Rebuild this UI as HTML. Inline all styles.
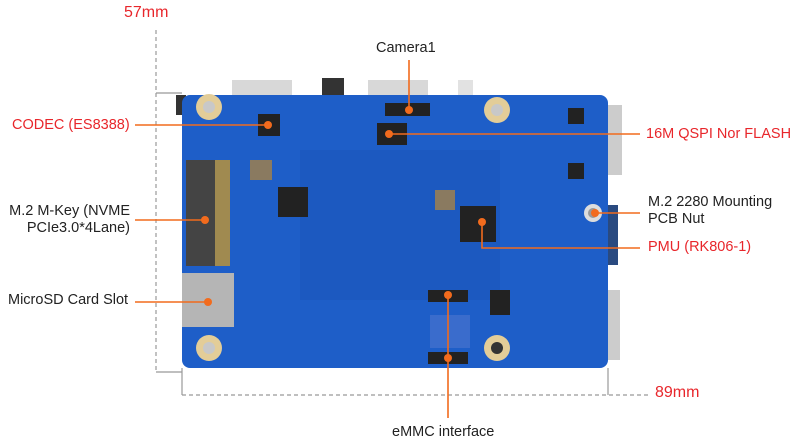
<!DOCTYPE html>
<html><head><meta charset="utf-8"><style>
body{margin:0;width:800px;height:442px;background:#fff;position:relative;overflow:hidden;font-family:"Liberation Sans",sans-serif;}
.a{position:absolute}
.t{position:absolute;font-size:14.5px;color:#222;white-space:nowrap;line-height:17px}
.r{color:#e8262b}
</style></head><body>
<svg class="a" style="left:0;top:0" width="800" height="442">
<rect x="232" y="80" width="60" height="17" fill="#d8d8d8"/>
<rect x="322" y="78" width="22" height="19" fill="#333"/>
<rect x="368" y="80" width="60" height="17" fill="#d8d8d8"/>
<rect x="458" y="80" width="15" height="17" fill="#e2e2e2"/>
<rect x="608" y="105" width="14" height="70" fill="#ccc"/>
<rect x="608" y="205" width="10" height="60" fill="#2a4a80"/>
<rect x="608" y="290" width="12" height="70" fill="#ccc"/>
<rect x="176" y="95" width="10" height="20" fill="#333"/>
<rect x="182" y="95" width="426" height="273" rx="8" fill="#1e5ec8"/>
<rect x="300" y="150" width="200" height="150" fill="#1a56bb" opacity=".6"/>
<g fill="#e3cd98"><circle cx="209" cy="107" r="13"/><circle cx="497" cy="110" r="13"/><circle cx="209" cy="348" r="13"/><circle cx="497" cy="348" r="13"/></g>
<g fill="#c8c8c8"><circle cx="209" cy="107" r="6"/><circle cx="497" cy="110" r="6"/><circle cx="209" cy="348" r="6"/></g>
<circle cx="497" cy="348" r="6" fill="#333"/>
<circle cx="593" cy="213" r="9" fill="#ddd"/><circle cx="593" cy="213" r="5" fill="#999"/>
<rect x="186" y="160" width="44" height="106" fill="#444"/>
<rect x="215" y="160" width="15" height="106" fill="#a08a50"/>
<rect x="182" y="273" width="52" height="54" fill="#b5b5b5"/>
<g fill="#222">
<rect x="258" y="114" width="22" height="22"/>
<rect x="377" y="123" width="30" height="22"/>
<rect x="385" y="103" width="45" height="13"/>
<rect x="278" y="187" width="30" height="30"/>
<rect x="460" y="206" width="36" height="36"/>
<rect x="428" y="290" width="40" height="12"/>
<rect x="428" y="352" width="40" height="12"/>
<rect x="568" y="108" width="16" height="16"/><rect x="568" y="163" width="16" height="16"/>
<rect x="490" y="290" width="20" height="25"/>
</g>
<rect x="430" y="315" width="40" height="33" fill="#3a6ccc"/>
<g fill="#8a7a60"><rect x="250" y="160" width="22" height="20"/><rect x="435" y="190" width="20" height="20"/></g>
<g stroke="#999" stroke-width="1.2" fill="none">
<path d="M156 30V372" stroke-dasharray="4 3"/>
<path d="M156 93H182"/>
<path d="M156 372H182"/>
<path d="M182 368V395"/>
<path d="M608 368V395"/>
<path d="M182 395H650" stroke-dasharray="4 3"/>
</g>
<g stroke="#f26b1d" stroke-width="1.6" fill="none">
<path d="M409 60V110"/>
<path d="M135 125H268"/>
<path d="M389 134H640"/>
<path d="M135 220H205"/>
<path d="M595 213H640"/>
<path d="M482 222V248H640"/>
<path d="M135 302H208"/>
<path d="M448 295V418"/>
</g>
<g fill="#f26b1d">
<circle cx="409" cy="110" r="4"/><circle cx="268" cy="125" r="4"/><circle cx="389" cy="134" r="4"/>
<circle cx="205" cy="220" r="4"/><circle cx="595" cy="213" r="4"/><circle cx="482" cy="222" r="4"/>
<circle cx="208" cy="302" r="4"/><circle cx="448" cy="295" r="4"/><circle cx="448" cy="358" r="4"/>
</g>
</svg>
<div class="t r" style="left:124px;top:4px;font-size:16px">57mm</div>
<div class="t r" style="left:655px;top:384px;font-size:16px">89mm</div>
<div class="t" style="left:376px;top:40px">Camera1</div>
<div class="t r" style="left:12px;top:117px">CODEC (ES8388)</div>
<div class="t r" style="left:646px;top:126px">16M QSPI Nor FLASH</div>
<div class="t" style="left:4px;top:203px;width:126px;text-align:right">M.2 M-Key (NVME<br>PCIe3.0*4Lane)</div>
<div class="t" style="left:648px;top:194px">M.2 2280 Mounting<br>PCB Nut</div>
<div class="t r" style="left:648px;top:239px">PMU (RK806-1)</div>
<div class="t" style="left:8px;top:292px">MicroSD Card Slot</div>
<div class="t" style="left:392px;top:424px">eMMC interface</div>
</body></html>
